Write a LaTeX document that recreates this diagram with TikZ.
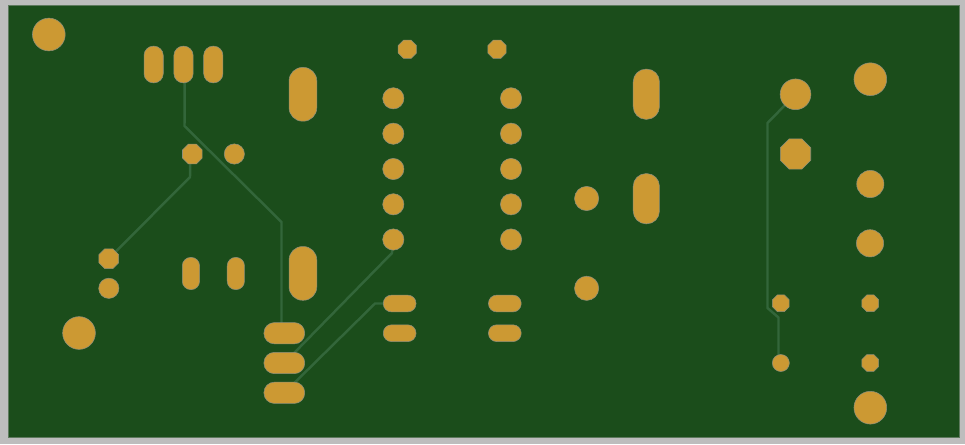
\documentclass[tikz,border=0pt]{standalone}
\usetikzlibrary{shapes.geometric,backgrounds}
\definecolor{frameGray}{HTML}{BDBDBD}
\definecolor{boardGreen}{HTML}{1B4D1B}
\definecolor{boardEdge}{HTML}{5E7A5E}
\definecolor{padGold}{HTML}{CC9933}
\definecolor{padEdge}{HTML}{8F8F7A}
\definecolor{traceGreen}{HTML}{33663A}
\tikzset{
  padbase/.style={fill=padGold,draw=padEdge,line width=0.4pt,inner sep=0pt,outer sep=0pt,xshift=0.25pt},
  padround/.style={padbase,circle,minimum size=#1*0.75pt-0.2pt},
  padocta/.style={padbase,regular polygon,regular polygon sides=8,minimum size=#1*0.79pt-0.2pt},
  padvert/.style 2 args={padbase,rectangle,minimum width=#1*0.75pt-0.2pt,minimum height=#2*0.75pt-0.2pt,rounded corners=#1*0.36pt},
  padhoriz/.style 2 args={padbase,rectangle,minimum width=#1*0.75pt-0.2pt,minimum height=#2*0.75pt-0.2pt,rounded corners=#2*0.36pt},
  trace/.style={draw=traceGreen,line width=1.85pt,line join=round,line cap=round}
}
\begin{document}
\begin{tikzpicture}[x=0.75pt,y=-0.75pt]
\useasboundingbox (0,0) rectangle (965,444);
% left block
\node[padround=33] (m1) at (48.5,34.5) {};
\node[padvert={19.5}{37}] (j1a) at (153.3,64.5) {};
\node[padvert={19.5}{37}] (j1b) at (183.2,64.5) {};
\node[padvert={19.5}{37}] (j1c) at (213,64.5) {};
\node[padvert={28}{54}] (big1) at (302.6,94.3) {};
\node[padocta=20.5] (c1a) at (192,154) {};
\node[padround=20.5] (c1b) at (234,154) {};
\node[padocta=20.5] (c2a) at (108.5,258.7) {};
\node[padround=20.5] (c2b) at (108.5,288.3) {};
\node[padvert={17.5}{32.5}] (r1) at (190.6,273.5) {};
\node[padvert={17.5}{32.5}] (r2) at (235.5,273.5) {};
\node[padvert={28}{54}] (big2) at (302.6,273.4) {};
\node[padround=33] (m2) at (78.7,333) {};
\node[padhoriz={41}{21.5}] (q1) at (284,333.2) {};
\node[padhoriz={41}{21.5}] (q2) at (284,363) {};
\node[padhoriz={41}{21.5}] (q3) at (284,392.8) {};
% centre block
\node[padocta=19] (t1) at (407,49.3) {};
\node[padocta=19] (t2) at (496.7,49.3) {};
\node[padround=21.5] (u1) at (393,98.3) {};
\node[padround=21.5] (u2) at (393,133.7) {};
\node[padround=21.5] (u3) at (393,169) {};
\node[padround=21.5] (u4) at (393,204.3) {};
\node[padround=21.5] (u5) at (393,239.5) {};
\node[padround=21.5] (u6) at (510.7,98.3) {};
\node[padround=21.5] (u7) at (510.7,133.7) {};
\node[padround=21.5] (u8) at (510.7,169) {};
\node[padround=21.5] (u9) at (510.7,204.3) {};
\node[padround=21.5] (u10) at (510.7,239.5) {};
\node[padhoriz={33}{17}] (s1) at (399.3,303.5) {};
\node[padhoriz={33}{17}] (s2) at (399.3,333.2) {};
\node[padhoriz={33}{17}] (s3) at (504.5,303.5) {};
\node[padhoriz={33}{17}] (s4) at (504.5,333.2) {};
\node[padround=24.5] (d1) at (586.3,198.5) {};
\node[padround=24.5] (d2) at (586.3,288.3) {};
\node[padvert={26.5}{50.5}] (big3) at (646,94.2) {};
\node[padvert={26.5}{50.5}] (big4) at (646,198.7) {};
% right block
\node[padround=31] (e1) at (795.2,94.3) {};
\node[padocta=31.5] (e2) at (795.2,154) {};
\node[padround=33] (m3) at (870,79.2) {};
\node[padround=27.5] (f1) at (870,184) {};
\node[padround=27.5] (f2) at (869.7,243.3) {};
\node[padocta=17.5] (g1) at (780.5,303.3) {};
\node[padocta=17.5] (g2) at (870,303.3) {};
\node[padround=17.3] (g3) at (780.5,363) {};
\node[padocta=17.5] (g4) at (870,363) {};
\node[padround=33] (m4) at (870,407.7) {};
\begin{pgfonlayer}{background}
\fill[frameGray] (0,0) rectangle (965,444);
\filldraw[fill=boardGreen,draw=boardEdge,line width=0.6pt] (8.5,5) rectangle (959.3,437.3);
\coordinate (a1) at (184.5,126);
\coordinate (a2) at (281.5,222);
\coordinate (a3) at (281.5,333);
\coordinate (b1) at (190,177);
\coordinate (d3) at (392,253);
\coordinate (h1) at (375,303.5);
\coordinate (k1) at (767.5,123);
\coordinate (k2) at (767.5,308);
\coordinate (k3) at (778.5,317.5);
\coordinate (k4) at (778.5,363);
\draw[trace] (j1b.center) ++(1.3,0) -- (a1) -- (a2) -- (a3);
\draw[trace] (c1a.center) ++(-2,0) -- (b1) -- (c2a.center);
\draw[trace] (u5.center) ++(-1,0) -- (d3) -- (q2.center);
\draw[trace] (s1.center) -- (h1) -- (q3.center);
\draw[trace] (e1.center) -- (k1) -- (k2) -- (k3) -- (k4) -- (g3.center);
\end{pgfonlayer}
\end{tikzpicture}
\end{document}
